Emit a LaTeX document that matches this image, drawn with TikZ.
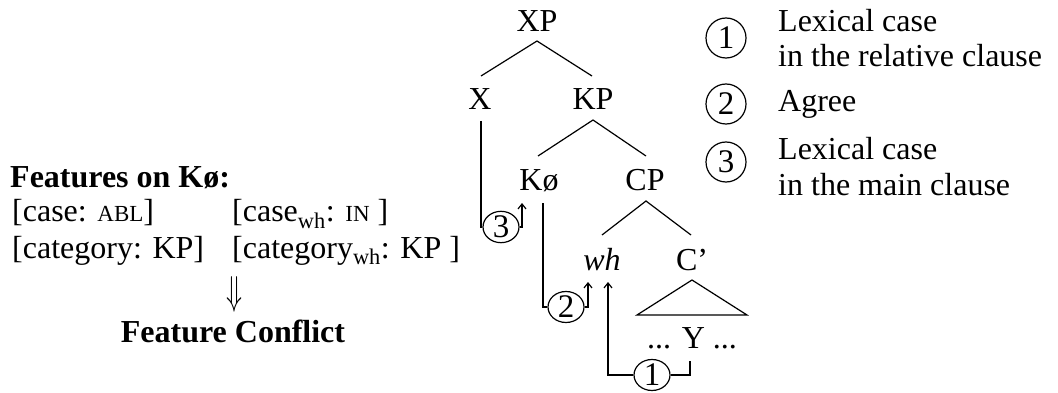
\documentclass[tikz,border=0pt]{standalone}
\usepackage{fontspec}
\usepackage{graphicx}
\setmainfont{Liberation Serif}
\usetikzlibrary{arrows.meta,shapes.geometric}
\newcommand\mysmc[1]{{\fontsize{23}{23}\selectfont #1}}
\begin{document}
\begin{tikzpicture}[x=1pt,y=-1pt,
  every node/.style={font=\fontsize{32}{36}\selectfont, inner sep=0pt},
  lbl/.style={anchor=base},
  txt/.style={anchor=base west},
  branch/.style={line width=1.2pt},
  ring/.style={draw, ellipse, line width=1.2pt, minimum width=36, minimum height=31, font=\fontsize{33}{36}\selectfont},
  legring/.style={draw, circle, line width=1.2pt, minimum size=40, font=\fontsize{33}{36}\selectfont},
  path/.style={line width=1.2pt},
  arr/.style={line width=1.2pt, -{Straight Barb[length=5pt,width=8pt]}}]
\useasboundingbox (0,0) rectangle (1058,393);

% tree labels
\node[lbl] (XP) at (537,32) {XP};
\node[lbl] (X)  at (480,110) {X};
\node[lbl] (KP) at (593,110) {KP};
\node[lbl] (K)  at (539,190) {Kø};
\node[lbl] (CP) at (645,190) {CP};
\node[lbl] (wh) at (602,270) {\textit{wh}};
\node[lbl] (Cb) at (692,270) {C’};
\node[lbl] (Y)  at (692,348) {... Y ...};

% branch end points
\coordinate (XPb) at (537,41);
\coordinate (Xt)  at (481,76);
\coordinate (KPt) at (592,76);
\coordinate (KPb) at (593,120);
\coordinate (Kt)  at (538,156);
\coordinate (CPt) at (646,156);
\coordinate (CPb) at (646,201);
\coordinate (wht) at (602,235);
\coordinate (Cbt) at (691,235);
\coordinate (tA)  at (692,280);
\coordinate (tL)  at (637,315);
\coordinate (tR)  at (747,315);

\draw[branch] (Xt) -- (XPb) -- (KPt);
\draw[branch] (Kt) -- (KPb) -- (CPt);
\draw[branch] (wht) -- (CPb) -- (Cbt);
\draw[branch] (tA) -- (tL) -- (tR) -- cycle;

% movement / agreement paths
\node[ring] (r3) at (501,227) {3};
\node[ring] (r2) at (566,307) {2};
\node[ring] (r1) at (652,375) {1};

\coordinate (Xb)  at (481,121);
\coordinate (a3)  at (522,203);
\coordinate (Kb)  at (543,203);
\coordinate (a2)  at (588,282);
\coordinate (Yb)  at (690,361);
\coordinate (a1)  at (608,282);

\draw[path] (Xb) |- (r3.west);
\draw[arr] (r3.east) -- (r3.east -| a3) -- (a3);
\draw[path] (Kb) |- (r2.west);
\draw[arr] (r2.east) -- (r2.east -| a2) -- (a2);
\draw[path] (Yb) |- (r1.east);
\draw[arr] (r1.west) -| (a1);

% features
\node[txt] (feat) at (10,188) {\textbf{Features on Kø:}};
\node[txt] (c1) at (12,222) {[case: \mysmc{ABL}]};
\node[txt] (c2) at (232,222) {[case\textsubscript{wh}: \mysmc{IN} ]};
\node[txt] (c3) at (12,258) {[category: KP]};
\node[txt] (c4) at (232,258) {[category\textsubscript{wh}: KP ]};
\node (dn) at (234,294) {\resizebox{16pt}{28pt}{$\Downarrow$}};
\node[lbl] (fc) at (233,342) {\textbf{Feature Conflict}};

% legend
\node[legring] (L1) at (726,38) {1};
\node[txt] (t1a) at (778,32) {Lexical case};
\node[txt] (t1b) at (778,67) {in the relative clause};
\node[legring] (L2) at (726,104) {2};
\node[txt] (t2) at (778,112) {Agree};
\node[legring] (L3) at (726,162) {3};
\node[txt] (t3a) at (778,160) {Lexical case};
\node[txt] (t3b) at (778,196) {in the main clause};
\end{tikzpicture}
\end{document}
